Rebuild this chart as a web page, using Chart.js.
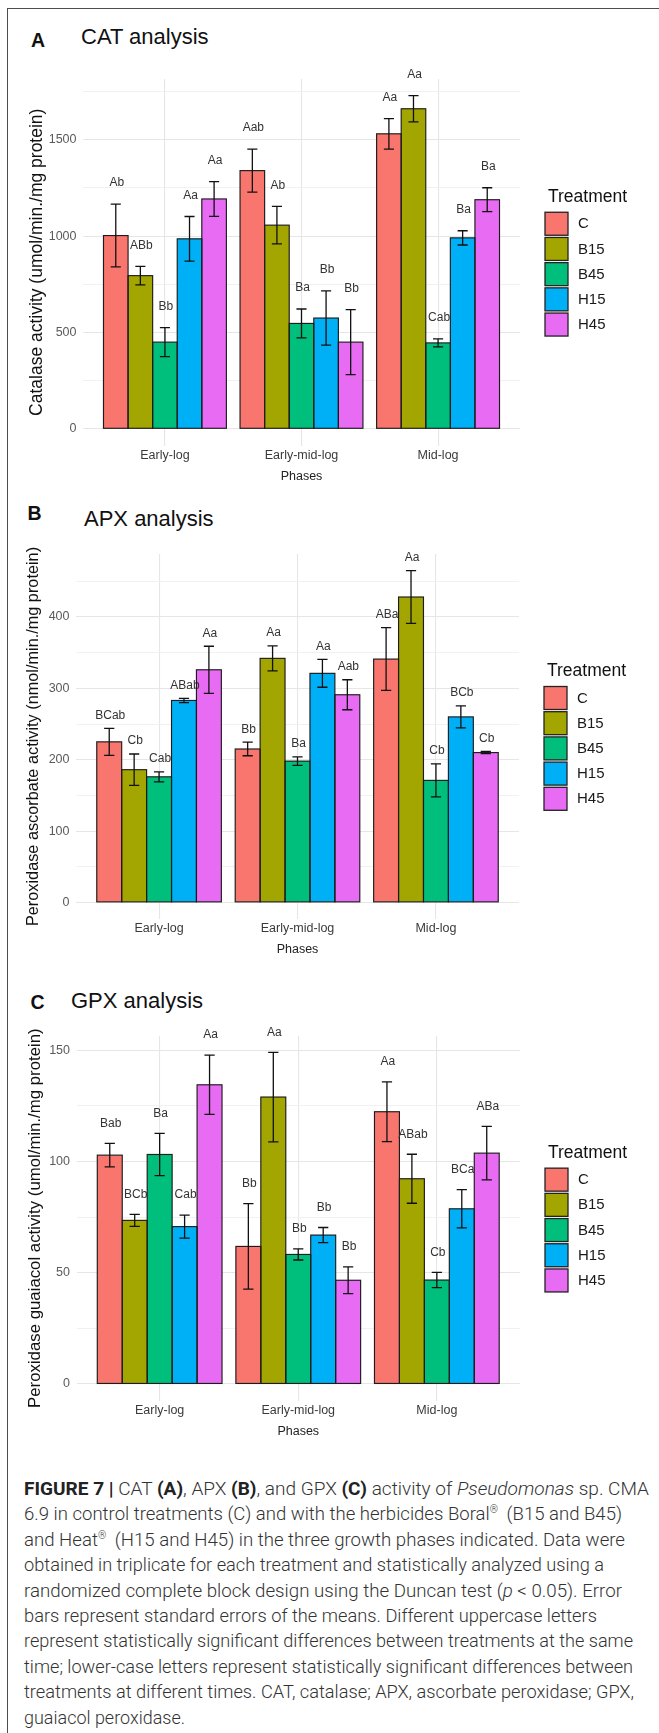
<!DOCTYPE html>
<html>
<head>
<meta charset="utf-8">
<script src="https://cdn.jsdelivr.net/npm/chart.js@4.4.1/dist/chart.umd.min.js"></script>
<style>
html,body{margin:0;padding:0;background:#fff;}
body{width:659px;height:1733px;position:relative;overflow:hidden;font-family:"Liberation Sans",Arial,sans-serif;}
#frame{position:absolute;left:7px;top:8px;width:700px;height:1800px;border-top:1.5px solid #4d4d4d;border-left:1.5px solid #4d4d4d;box-sizing:border-box;}
.plet{position:absolute;font-weight:bold;font-size:19.5px;line-height:19.5px;color:#111;}
.ptitle{position:absolute;font-size:22px;line-height:22px;color:#111;white-space:nowrap;}
canvas{position:absolute;left:0;}
#caption{position:absolute;left:24px;top:1476px;font-family:Roboto,"Liberation Sans",Arial,sans-serif;font-weight:300;font-size:18px;line-height:25.4px;color:#333;}
#caption b{font-weight:700;color:#222;}
.cl{display:block;width:max-content;white-space:nowrap;transform-origin:0 50%;}
sup{font-size:10px;line-height:0;vertical-align:7px;margin-right:4px;}
</style>
</head>
<body>
<div id="frame"></div>

<div class="plet" style="left:31px;top:30.5px;">A</div>
<div class="ptitle" style="left:81px;top:25.7px;">CAT analysis</div>
<div class="plet" style="left:27.5px;top:503.5px;">B</div>
<div class="ptitle" style="left:84px;top:507.5px;">APX analysis</div>
<div class="plet" style="left:30.5px;top:993px;">C</div>
<div class="ptitle" style="left:71px;top:990px;">GPX analysis</div>

<canvas id="cA" width="659" height="440" style="top:55px"></canvas>
<canvas id="cB" width="659" height="440" style="top:530px"></canvas>
<canvas id="cC" width="659" height="440" style="top:1012px"></canvas>

<div id="caption">
<span class="cl"><b>FIGURE 7 |</b> CAT <b>(A)</b>, APX <b>(B)</b>, and GPX <b>(C)</b> activity of <i>Pseudomonas</i> sp. CMA</span>
<span class="cl">6.9 in control treatments (C) and with the herbicides Boral<sup>®</sup> (B15 and B45)</span>
<span class="cl">and Heat<sup>®</sup> (H15 and H45) in the three growth phases indicated. Data were</span>
<span class="cl">obtained in triplicate for each treatment and statistically analyzed using a</span>
<span class="cl">randomized complete block design using the Duncan test (<i>p</i> &lt; 0.05). Error</span>
<span class="cl">bars represent standard errors of the means. Different uppercase letters</span>
<span class="cl">represent statistically significant differences between treatments at the same</span>
<span class="cl">time; lower-case letters represent statistically significant differences between</span>
<span class="cl">treatments at different times. CAT, catalase; APX, ascorbate peroxidase; GPX,</span>
<span class="cl">guaiacol peroxidase.</span>
</div>

<script>
// ---------- DATA ----------
const phases = ['Early-log', 'Early-mid-log', 'Mid-log'];
const treatments = ['C', 'B15', 'B45', 'H15', 'H45'];

// rows: treatments (C, B15, B45, H15, H45); columns: phases
const catMean = [[1003, 1340, 1531], [795, 1057, 1661], [450, 547, 446], [986, 575, 991], [1193, 450, 1189]];
const catSE   = [[163, 112, 79], [48, 97, 68], [75, 75, 21], [116, 141, 37], [90, 169, 62]];
const catLetters = [['Ab', 'Aab', 'Aa'], ['ABb', 'Ab', 'Aa'], ['Bb', 'Ba', 'Cab'], ['Aa', 'Bb', 'Ba'], ['Aa', 'Bb', 'Ba']];
const catTicks = [0, 500, 1000, 1500];

const apxMean = [[225, 215, 341], [186, 342, 428], [176, 198, 171], [283, 321, 260], [326, 291, 210]];
const apxSE   = [[19, 9.5, 44], [22, 17.5, 37], [7, 6, 23], [3, 19.5, 15.5], [33, 21, 1.5]];
const apxLetters = [['BCab', 'Bb', 'ABa'], ['Cb', 'Aa', 'Aa'], ['Cab', 'Ba', 'Cb'], ['ABab', 'Aa', 'BCb'], ['Aa', 'Aab', 'Cb']];
const apxTicks = [0, 100, 200, 300, 400];

const gpxMean = [[102.8, 61.8, 122.3], [73.5, 128.9, 92.2], [103.1, 58.2, 46.7], [70.7, 66.9, 78.7], [134.4, 46.6, 103.7]];
const gpxSE   = [[5.3, 19.2, 13.4], [2.7, 20.1, 11], [9.5, 2.5, 3.4], [5.2, 3.4, 8.6], [13.3, 6, 12]];
const gpxLetters = [['Bab', 'Bb', 'Aa'], ['BCb', 'Aa', 'ABab'], ['Ba', 'Bb', 'Cb'], ['Cab', 'Bb', 'BCa'], ['Aa', 'Bb', 'ABa']];
const gpxTicks = [0, 50, 100, 150];

// ---------- STYLE ----------
const colors = ['#F8766D', '#A3A500', '#00BF7D', '#00B0F6', '#E76BF3'];
const FONT = '"Liberation Sans", Arial, sans-serif';
Chart.defaults.font.family = FONT;

const extras = {
  id: 'extras',
  afterDatasetsDraw(chart, args, opts) {
    const ctx = chart.ctx, ys = chart.scales.y;
    ctx.save();
    chart.data.datasets.forEach((ds, di) => {
      const meta = chart.getDatasetMeta(di);
      meta.data.forEach((bar, j) => {
        const p = bar.getProps(['x', 'y', 'base', 'width'], true);
        // outline
        ctx.strokeStyle = '#1c1c1c';
        ctx.lineWidth = 1.15;
        ctx.strokeRect(p.x - p.width / 2, Math.min(p.y, p.base), p.width, Math.abs(p.base - p.y));
        // error bar
        const m = ds.data[j].y, se = ds.se[j];
        const yt = ys.getPixelForValue(m + se), yb = ys.getPixelForValue(m - se);
        const cw = p.width * 0.205;
        ctx.lineWidth = 1.3;
        ctx.strokeStyle = '#111';
        ctx.beginPath();
        ctx.moveTo(p.x, yt); ctx.lineTo(p.x, yb);
        ctx.moveTo(p.x - cw, yt); ctx.lineTo(p.x + cw, yt);
        ctx.moveTo(p.x - cw, yb); ctx.lineTo(p.x + cw, yb);
        ctx.stroke();
        // letters
        ctx.fillStyle = '#333';
        ctx.font = '12px ' + FONT;
        ctx.textAlign = 'center';
        ctx.textBaseline = 'middle';
        ctx.fillText(ds.letters[j], p.x + 1, yt - opts.labelGap);
      });
    });
    ctx.restore();
  },
  afterDraw(chart) {
    const ctx = chart.ctx, ca = chart.chartArea;
    const mid = (ca.top + ca.bottom) / 2;
    ctx.save();
    ctx.fillStyle = '#111';
    ctx.font = '17.5px ' + FONT;
    ctx.textAlign = 'left';
    ctx.textBaseline = 'middle';
    ctx.fillText('Treatment', ca.right + 28, mid - 65);
    treatments.forEach((t, i) => {
      const top = mid - 50 + i * 25.2;
      ctx.fillStyle = colors[i];
      ctx.fillRect(ca.right + 25, top, 23, 23);
      ctx.strokeStyle = '#222';
      ctx.lineWidth = 1.3;
      ctx.strokeRect(ca.right + 25, top, 23, 23);
      ctx.fillStyle = '#1a1a1a';
      ctx.font = '15px "Liberation Sans Narrow", ' + FONT;
      ctx.fillText(t, ca.right + 58, top + 12);
    });
    ctx.restore();
  }
};

function makePanel(id, means, ses, letters, ticks, cfg) {
  let maxTop = 0;
  means.forEach((row, i) => row.forEach((m, j) => { maxTop = Math.max(maxTop, m + ses[i][j]); }));
  const yMax = maxTop * 1.05, yMin = -maxTop * 0.05;
  const half = (ticks[1] - ticks[0]) / 2;
  const gridVals = [];
  for (let k = 0; ticks[0] + k * half <= yMax; k++) gridVals.push(ticks[0] + k * half);
  const isMajor = v => ticks.some(t => Math.abs(t - v) < 1e-9);

  new Chart(document.getElementById(id), {
    type: 'bar',
    data: {
      datasets: treatments.map((t, i) => ({
        label: t,
        data: means[i].map((m, j) => ({ x: j + 1, y: m })),
        se: ses[i],
        letters: letters[i],
        backgroundColor: colors[i],
        borderWidth: 0,
        categoryPercentage: 0.9,
        barPercentage: 1.0
      }))
    },
    options: {
      responsive: false,
      animation: false,
      devicePixelRatio: 1,
      events: [],
      layout: { padding: { left: 0, right: cfg.padRight, top: cfg.padTop, bottom: cfg.padBottom } },
      plugins: { legend: { display: false }, tooltip: { enabled: false }, extras: { labelGap: cfg.labelGap } },
      scales: {
        x: {
          type: 'linear', min: 0.4, max: 3.6, offset: false,
          afterBuildTicks: s => { s.ticks = phases.map((p, i) => ({ value: i + 1 })); },
          afterFit: s => { s.height = 42; },
          ticks: { callback: v => phases[Math.round(v) - 1], padding: 2.5, font: { size: 12.5 }, color: '#3a3a3a', maxRotation: 0, autoSkip: false },
          grid: { color: '#e6e6e6', lineWidth: 1.1, drawTicks: false, offset: false },
          border: { display: false },
          title: { display: true, text: 'Phases', font: { size: 12.5 }, color: '#222', padding: { top: 0, bottom: 3.5 } }
        },
        y: {
          min: yMin, max: yMax,
          afterBuildTicks: s => { s.ticks = gridVals.map(v => ({ value: v })); },
          afterFit: s => { s.width = cfg.yw; },
          ticks: { callback: v => isMajor(v) ? String(v) : '', padding: 6.5, font: { size: 12.5 }, color: '#5a5a5a', autoSkip: false },
          grid: {
            color: c => (c.tick && isMajor(c.tick.value)) ? '#e6e6e6' : '#efefef',
            lineWidth: c => (c.tick && isMajor(c.tick.value)) ? 1.1 : 0.9,
            drawTicks: false
          },
          border: { display: false },
          title: { display: true, text: cfg.yTitle, font: { size: cfg.ytSize }, color: '#111', padding: { top: cfg.ytPad, bottom: 0 } }
        }
      }
    },
    plugins: [extras]
  });
}

makePanel('cA', catMean, catSE, catLetters, catTicks, {
  yw: 83, padRight: 139, padTop: 24, padBottom: 7.5, labelGap: 21,
  yTitle: 'Catalase activity (umol/min./mg protein)', ytSize: 17.5, ytPad: 26.9
});
makePanel('cB', apxMean, apxSE, apxLetters, apxTicks, {
  yw: 76, padRight: 140, padTop: 24, padBottom: 9, labelGap: 13,
  yTitle: 'Peroxidase ascorbate activity (nmol/min./mg protein)', ytSize: 16.3, ytPad: 24.2
});
makePanel('cC', gpxMean, gpxSE, gpxLetters, gpxTicks, {
  yw: 76.5, padRight: 139, padTop: 23.7, padBottom: 9.4, labelGap: 20,
  yTitle: 'Peroxidase guaiacol activity (umol/min./mg protein)', ytSize: 16.8, ytPad: 25.2
});

// fit caption lines to the reference line widths
const lineWidths = [625, 598, 601, 580, 598, 573, 609, 609, 610, 161];
document.querySelectorAll('.cl').forEach((el, i) => {
  const w = el.getBoundingClientRect().width;
  if (w > 0) el.style.transform = 'scaleX(' + (lineWidths[i] / w) + ')';
});
</script>
</body>
</html>
